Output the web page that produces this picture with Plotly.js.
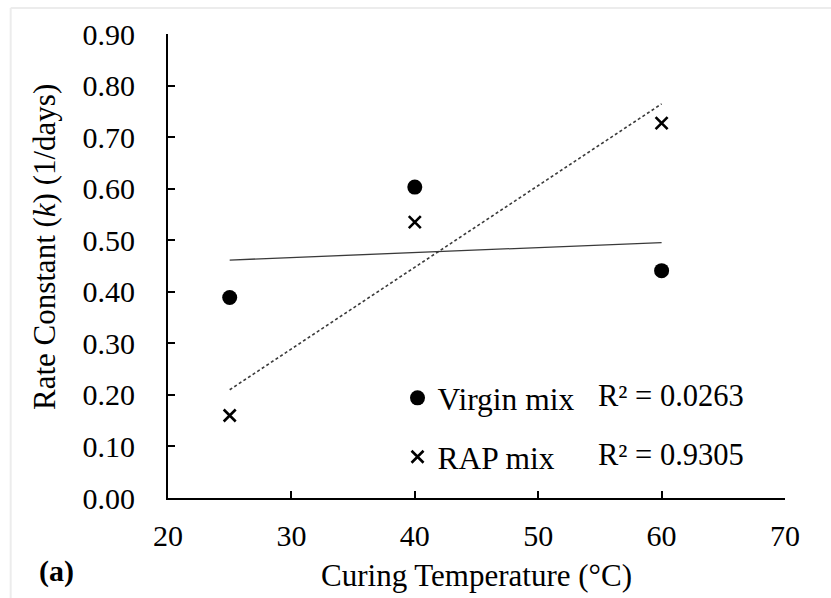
<!DOCTYPE html>
<html>
<head>
<meta charset="utf-8">
<script src="https://cdn.plot.ly/plotly-3.0.1.min.js"></script>
<style>html,body{margin:0;padding:0;background:#fff;}#chart{width:831px;height:598px;}</style>
</head>
<body>
<div id="chart"></div>
<script>
// Data
const temperatures = [25, 40, 60];            // Curing Temperature (°C)
const virginK = [0.389, 0.603, 0.441];        // Rate constant k, Virgin mix
const rapK = [0.160, 0.535, 0.727];           // Rate constant k, RAP mix
const seriesNames = ["Virgin mix", "RAP mix"];
const rSquared = ["0.0263", "0.9305"];
const yTickVals = [0, 0.1, 0.2, 0.3, 0.4, 0.5, 0.6, 0.7, 0.8, 0.9];
const xTickVals = [20, 30, 40, 50, 60, 70];

// Linear least-squares trend line over the data range
function trend(xs, ys) {
  const n = xs.length;
  const mx = xs.reduce((a, b) => a + b, 0) / n;
  const my = ys.reduce((a, b) => a + b, 0) / n;
  let sxy = 0, sxx = 0;
  for (let i = 0; i < n; i++) { sxy += (xs[i] - mx) * (ys[i] - my); sxx += (xs[i] - mx) ** 2; }
  const b = sxy / sxx, a = my - b * mx;
  const x0 = Math.min(...xs), x1 = Math.max(...xs);
  return { x: [x0, x1], y: [a + b * x0, a + b * x1] };
}
const tV = trend(temperatures, virginK);
const tR = trend(temperatures, rapK);

const FONT = "Liberation Serif, Times New Roman, serif";

const traces = [
  { x: tV.x, y: tV.y, mode: "lines", showlegend: false, hoverinfo: "skip",
    line: { color: "#3a3a3a", width: 1.3 } },
  { x: tR.x, y: tR.y, mode: "lines", showlegend: false, hoverinfo: "skip",
    line: { color: "#3a3a3a", width: 1.6, dash: "3px,2.5px" } },
  { x: temperatures, y: virginK, mode: "markers", name: seriesNames[0], legendgroup: "a",
    marker: { symbol: "circle", size: 15, color: "#000" } },
  { x: temperatures, y: rapK, mode: "markers", name: seriesNames[1], legendgroup: "b",
    marker: { symbol: "x-thin-open", size: 12, color: "#000", line: { color: "#000", width: 2.6 } } }
];

const layout = {
  width: 831, height: 598,
  margin: { l: 168, r: 46, t: 34, b: 100 },
  paper_bgcolor: "#fff", plot_bgcolor: "#fff",
  font: { family: FONT, size: 30, color: "#000" },
  showlegend: true,
  legend: { x: 0.372, xanchor: "left", y: 0.274, yanchor: "top",
    bgcolor: "rgba(0,0,0,0)", itemwidth: 30, tracegroupgap: 15,
    font: { family: FONT, size: 31.5, color: "#000" } },
  xaxis: {
    range: [20, 70], tickvals: xTickVals, ticktext: xTickVals.map(String),
    showgrid: false, zeroline: false, showline: true, linecolor: "#000", linewidth: 2,
    ticks: "inside", ticklen: 7, tickwidth: 2, tickcolor: "#000",
    ticklabelstandoff: 10,
    title: { text: "Curing Temperature (°C)", font: { family: FONT, size: 31 }, standoff: 13 }
  },
  yaxis: {
    range: [0, 0.9], tickvals: yTickVals, ticktext: yTickVals.map(v => v.toFixed(2)),
    showgrid: false, zeroline: false, showline: true, linecolor: "#000", linewidth: 2,
    ticks: "inside", ticklen: 7, tickwidth: 2, tickcolor: "#000",
    ticklabelstandoff: 25
  },
  annotations: [
    { text: "Rate Constant (<i>k</i>) (1/days)", xref: "paper", yref: "paper",
      x: -0.2, y: 0.54, xanchor: "center", yanchor: "middle", textangle: -90,
      showarrow: false, font: { family: FONT, size: 31 } },
    { text: "R² = " + rSquared[0], xref: "paper", yref: "paper",
      x: 0.694, y: 0.22, xanchor: "left", yanchor: "middle",
      showarrow: false, font: { family: FONT, size: 30.5 } },
    { text: "R² = " + rSquared[1], xref: "paper", yref: "paper",
      x: 0.694, y: 0.092, xanchor: "left", yanchor: "middle",
      showarrow: false, font: { family: FONT, size: 30.5 } },
    { text: "<b>(a)</b>", xref: "paper", yref: "paper",
      x: -0.213, y: -0.158, xanchor: "left", yanchor: "middle",
      showarrow: false, font: { family: FONT, size: 30 } }
  ],
  shapes: [
    { type: "line", xref: "paper", yref: "paper", x0: -0.255, x1: -0.255, y0: 1.056, y1: -0.22,
      line: { color: "#ececec", width: 2 }, layer: "below" },
    { type: "line", xref: "paper", yref: "paper", x0: -0.255, x1: 1.08, y0: 1.056, y1: 1.056,
      line: { color: "#ececec", width: 2 }, layer: "below" }
  ]
};

Plotly.newPlot("chart", traces, layout, { displayModeBar: false, staticPlot: true });
</script>
</body>
</html>
